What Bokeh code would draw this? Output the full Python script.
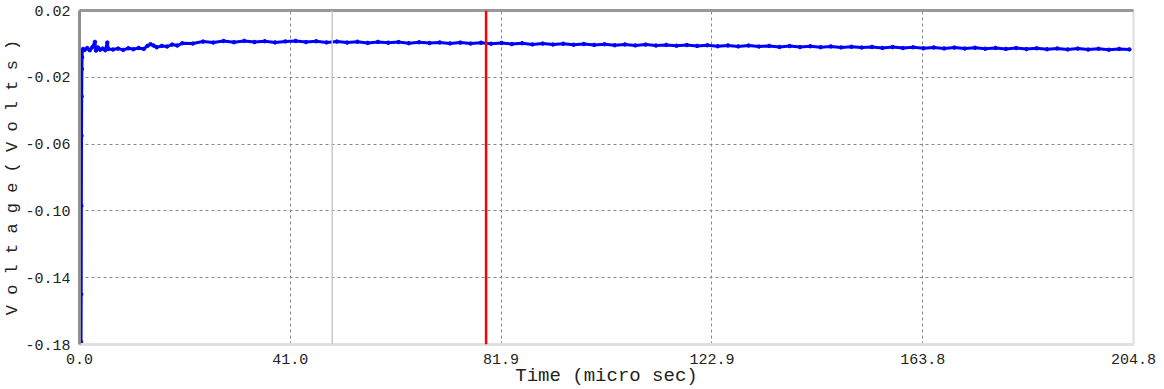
from bokeh.plotting import figure
from bokeh.models import Range1d, FixedTicker, NumeralTickFormatter, LinearAxis, Span
from bokeh.embed import file_html
from bokeh.resources import INLINE

# ---- data ----
times = [0.30, 0.33, 0.36, 0.39, 0.42, 0.46, 0.50, 0.55, 0.70, 1.0, 1.5, 2.0, 2.5, 3.0, 3.2, 3.6,
         4.0, 4.5, 5.0, 5.4, 5.6, 6.5, 7.5, 8.5, 9.5, 10.5, 11.5, 12.5, 13.2, 13.8, 14.4, 15.0,
         16.0, 17.0, 18.0, 19.0, 20.0,
         22, 24, 26, 28, 30, 32, 34, 36, 38, 40, 42, 44, 46, 48, 50, 52, 54, 56, 58, 60,
         62, 64, 66, 68, 70, 72, 74, 76, 78, 80, 82, 84, 86, 88, 90, 92, 94, 96, 98, 100,
         102, 104, 106, 108, 110, 112, 114, 116, 118, 120, 122, 124, 126, 128, 130, 132, 134, 136, 138, 140,
         142, 144, 146, 148, 150, 152, 154, 156, 158, 160, 162, 164, 166, 168, 170, 172, 174, 176, 178, 180,
         182, 184, 186, 188, 190, 192, 194, 196, 198, 200, 202, 204]
volts = [-0.1785, -0.150, -0.097, -0.055, -0.0315, -0.015, -0.008, -0.004, -0.0030, -0.0036, -0.0025,
         -0.0038, -0.0020, 0.0012, -0.0040, -0.0022, -0.0035, -0.0028, -0.0038, 0.0008, -0.0030,
         -0.0034, -0.0028, -0.0036, -0.0026, -0.0032, -0.0024, -0.0030, -0.0012, -0.0002, -0.0010,
         -0.0020, -0.0012, -0.0016, -0.0004, -0.0010, 0.0004,
         0.0002, 0.0014, 0.0008, 0.0017, 0.0010, 0.0018, 0.0011, 0.0016, 0.0009, 0.0015,
         0.0018, 0.0011, 0.0016, 0.0009, 0.0014, 0.0008, 0.0013, 0.0006, 0.0012, 0.0007,
         0.0011, 0.0004, 0.0010, 0.0005, 0.0009, 0.0003, 0.0008, 0.0002, 0.0007, 0.0001,
         0.0006, -0.0001, 0.0004, -0.0003, 0.0002, -0.0004, 0.0001, -0.0005, -0.0001, -0.0006,
         -0.0002, -0.0008, -0.0003, -0.0009, -0.0004, -0.0010, -0.0006, -0.0011, -0.0007, -0.0012,
         -0.0008, -0.0014, -0.0009, -0.0015, -0.0010, -0.0016, -0.0012, -0.0018, -0.0013, -0.0019,
         -0.0014, -0.0020, -0.0015, -0.0021, -0.0017, -0.0022, -0.0018, -0.0024, -0.0019, -0.0025,
         -0.0020, -0.0026, -0.0021, -0.0027, -0.0022, -0.0028, -0.0023, -0.0029, -0.0024, -0.0030,
         -0.0025, -0.0031, -0.0026, -0.0032, -0.0027, -0.0033, -0.0028, -0.0034, -0.0029, -0.0035,
         -0.0030, -0.0033]
x_ticks = [0.0, 40.96, 81.92, 122.88, 163.84, 204.8]
y_ticks = [-0.18, -0.14, -0.10, -0.06, -0.02, 0.02]
cursor_times = [49.1, 79.0]
cursor_colors = ["#c8c8c8", "#ff0000"]

FONT = "Liberation Mono"

p = figure(width=1164, height=389, output_backend="svg", toolbar_location=None,
           x_range=Range1d(0, 204.8), y_range=Range1d(-0.18, 0.02),
           min_border_left=74, min_border_right=31, min_border_top=10, min_border_bottom=40,
           background_fill_color="white", border_fill_color="white",
           x_axis_label="Time (micro sec)", y_axis_label="V o l t a g e ( V o l t s )")
p.outline_line_color = "#dddddd"
p.outline_line_width = 2

for ax, ticks, fmt in ((p.xaxis[0], x_ticks, "0.0"), (p.yaxis[0], y_ticks, "0.00")):
    ax.ticker = FixedTicker(ticks=ticks)
    ax.formatter = NumeralTickFormatter(format=fmt)
    ax.major_tick_line_color = None
    ax.minor_tick_line_color = None
    ax.major_label_text_font = FONT
    ax.major_label_text_font_size = "15px"
    ax.major_label_text_color = "#222222"
    ax.axis_label_text_font = FONT
    ax.axis_label_text_font_style = "normal"
    ax.axis_label_text_color = "#222222"

p.xaxis[0].axis_line_color = "#e0e0e0"
p.xaxis[0].axis_line_width = 3
p.xaxis[0].major_label_standoff = 3
p.xaxis[0].axis_label_standoff = -2
p.xaxis[0].axis_label_text_font_size = "19px"
p.yaxis[0].axis_line_color = "#909090"
p.yaxis[0].axis_line_width = 3
p.yaxis[0].major_label_standoff = 3
p.yaxis[0].axis_label_standoff = 0
p.yaxis[0].axis_label_text_font_size = "17px"

top = LinearAxis(axis_line_color="#999999", axis_line_width=3, major_tick_line_color=None,
                 minor_tick_line_color=None, major_label_text_font_size="0px",
                 ticker=FixedTicker(ticks=[]))
p.add_layout(top, "above")

for g, ticks in ((p.xgrid[0], x_ticks), (p.ygrid[0], y_ticks)):
    g.ticker = FixedTicker(ticks=ticks)
    g.grid_line_color = "#888888"
    g.grid_line_dash = "3 3"
    g.grid_line_width = 1

for t, c in zip(cursor_times, cursor_colors):
    p.add_layout(Span(location=t, dimension="height", line_color=c,
                      line_width=1.5 if c == "#c8c8c8" else 2.5))

p.line(times, volts, line_color="#0000ff", line_width=3)
p.scatter(times, volts, size=3.5, color="#0000ff")

open("out.html", "w").write(file_html(p, INLINE))
